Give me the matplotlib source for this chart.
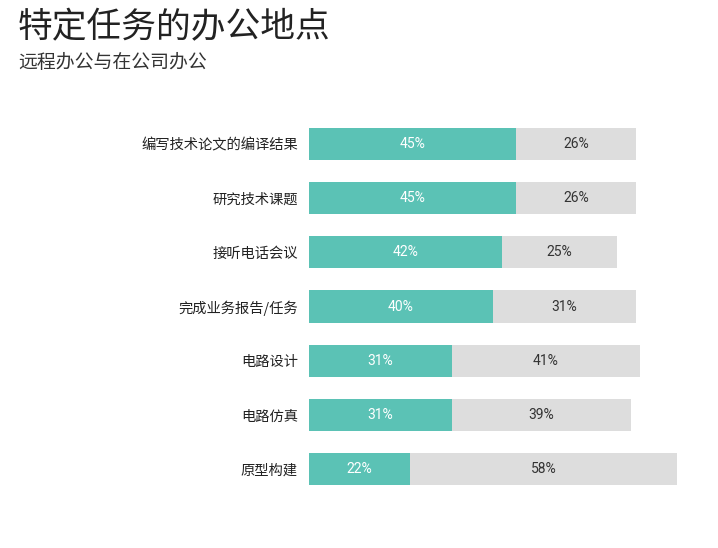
import matplotlib.pyplot as plt

plt.rcParams['font.family'] = ['Noto Sans CJK SC', 'DejaVu Sans']

tasks = ['编写技术论文的编译结果', '研究技术课题', '接听电话会议', '完成业务报告/任务',
         '电路设计', '电路仿真', '原型构建']
remote = [45, 45, 42, 40, 31, 31, 22]
office = [26, 26, 25, 31, 41, 39, 58]

teal = '#5bc2b5'
grey = '#dddddd'

fig = plt.figure(figsize=(7.18, 5.48), dpi=100)
ax = fig.add_axes([309 / 718, 1 - 496.5 / 548, 368 / 718, 380 / 548])

y = list(range(len(tasks)))
ax.barh(y, remote, height=0.59, color=teal)
ax.barh(y, office, left=remote, height=0.59, color=grey)

for i in y:
    ax.text(remote[i] / 2, i, f'{remote[i]}%', ha='center', va='center',
            color='white', fontsize=10, family=['Roboto', 'DejaVu Sans'])
    ax.text(remote[i] + office[i] / 2, i, f'{office[i]}%', ha='center', va='center',
            color='#333333', fontsize=10, family=['Roboto', 'DejaVu Sans'])

ax.set_xlim(0, 80)
ax.set_ylim(len(tasks) - 0.5, -0.5)
ax.set_yticks(y)
ax.set_yticklabels(tasks, fontsize=10.3, color='#222222')
ax.tick_params(axis='y', length=0, pad=8)
ax.set_xticks([])
for s in ax.spines.values():
    s.set_visible(False)

fig.text(18 / 718, 1 - 28 / 548, '特定任务的办公地点', fontsize=25, va='center',
         color='#222222', fontweight='light')
fig.text(18 / 718, 1 - 62 / 548, '远程办公与在公司办公', fontsize=13.6, va='center',
         color='#333333', fontweight='light')

fig.savefig('out.png', dpi=100)
